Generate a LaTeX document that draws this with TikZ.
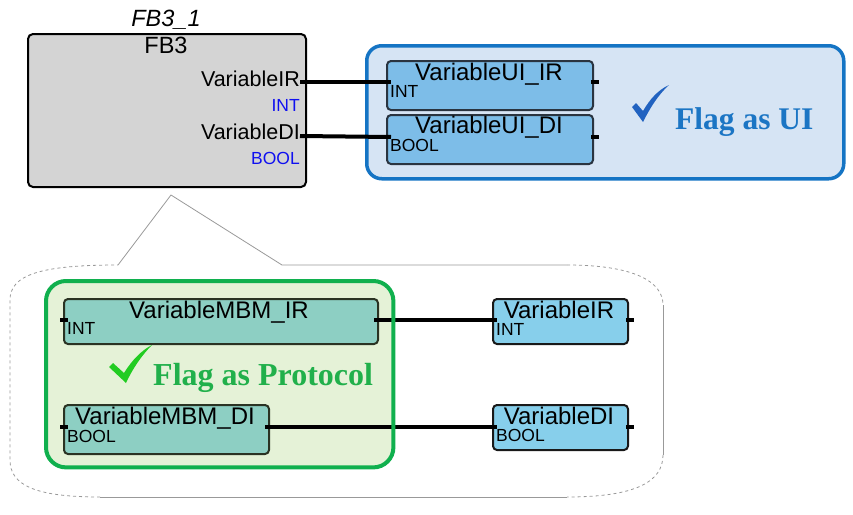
\documentclass[tikz,border=0pt]{standalone}
\usepackage{fontspec}
\setmainfont{Liberation Sans}
\newfontfamily\flagfont{Liberation Serif}
\begin{document}
\begin{tikzpicture}[x=1pt,y=-1pt,
  fbbox/.style={draw=black,line width=2pt,fill=fbgray,rounded corners=5pt},
  uibox/.style={draw=uiedge,line width=2pt,fill=uifill,rounded corners=4pt},
  mbmbox/.style={draw=mbmedge,line width=2pt,fill=mbmfill,rounded corners=4pt},
  varbox/.style={draw=black!90,line width=2pt,fill=varfill,rounded corners=4pt},
  title/.style={inner sep=0pt,anchor=base,font=\fontsize{24}{28}\selectfont},
  port/.style={inner sep=0pt,anchor=base east,font=\fontsize{21.5}{25}\selectfont},
  small/.style={inner sep=0pt,anchor=base west,font=\fontsize{17.5}{21}\selectfont},
  wire/.style={line width=4pt,black},
  stub/.style={line width=4pt,black},
  callout/.style={gray!80,line width=0.8pt},
  flag/.style={inner sep=0pt,anchor=base west,font=\flagfont\bfseries\fontsize{32}{36}\selectfont},
]
\definecolor{fbgray}{HTML}{D4D4D4}
\definecolor{uifill}{HTML}{7DBDE8}
\definecolor{uiedge}{HTML}{2A3440}
\definecolor{uigroupfill}{HTML}{D6E4F4}
\definecolor{uigroupedge}{HTML}{1574C4}
\definecolor{uitext}{HTML}{1B75C4}
\definecolor{uicheck}{HTML}{2162C0}
\definecolor{grgroupfill}{HTML}{E5F2D7}
\definecolor{grgroupedge}{HTML}{10B04E}
\definecolor{mbmfill}{HTML}{8DCFC3}
\definecolor{mbmedge}{HTML}{2A3323}
\definecolor{grtext}{HTML}{21B04B}
\definecolor{grcheck}{HTML}{22CC22}
\definecolor{varfill}{HTML}{87CFEB}
\definecolor{typeblue}{HTML}{1010F0}

\useasboundingbox (0,0) rectangle (853,514);

% callout outline
\draw[callout] (118,265) -- (171,195) -- (282,265) -- (567,265);
\draw[callout,dashed] (567,265) .. controls (635,265) and (663,282) .. (663,305);
\draw[callout] (663,305) -- (663,455);
\draw[callout,dashed] (663,455) .. controls (663,482) and (635,497) .. (567,497);
\draw[callout] (567,497) -- (100,497);
\draw[callout,dashed] (100,497) .. controls (35,497) and (10,485) .. (10,460) -- (10,300)
   .. controls (10,275) and (40,265) .. (118,265);

% FB3 block
\node[fbbox,minimum width=278pt,minimum height=153pt,anchor=north west] (fb3) at (27,33) {};
\node[inner sep=0pt,anchor=base,font=\itshape\fontsize{23.5}{27}\selectfont] (fbinst) at (166,26) {FB3\_1};
\node[title,font=\fontsize{23.5}{27}\selectfont] (fbtype) at (166,53) {FB3};
\node[port] (pir) at (300,86) {VariableIR};
\node[port,font=\fontsize{17.5}{21}\selectfont,text=typeblue] (pirt) at (300,111) {INT};
\node[port] (pdi) at (300,139) {VariableDI};
\node[port,font=\fontsize{17.5}{21}\selectfont,text=typeblue] (pdit) at (300,164) {BOOL};
\coordinate (fbIR) at (300,82);
\coordinate (fbDI) at (300,136);

% UI group
\node[draw=uigroupedge,line width=3.5pt,fill=uigroupfill,rounded corners=15pt,
      minimum width=477pt,minimum height=133pt,anchor=north west] (uigroup) at (365,44) {};
\node[uibox,minimum width=206pt,minimum height=49pt,anchor=north west] (uiir) at (386,60) {};
\node[uibox,minimum width=206pt,minimum height=49pt,anchor=north west] (uidi) at (386,114) {};
\node[title] (uiirt) at (489,80) {VariableUI\_IR};
\node[small] (uiirty) at (390,97) {INT};
\node[title] (uidit) at (489,133) {VariableUI\_DI};
\node[small] (uidity) at (390,151) {BOOL};
\coordinate (uiirL) at (391,82);
\coordinate (uidiL) at (391,137);
\draw[stub] (uiir.east |- 0,82) ++(-3,0) -- ++(8,0);
\draw[stub] (uidi.east |- 0,137) ++(-3,0) -- ++(8,0);
\draw[wire] (fbIR) -- (uiirL);
\draw[wire] (fbDI) -- (uidiL);
% blue check
\fill[uicheck] (632,107) -- (636,103) -- (643,111)
  .. controls (650,99) and (658,90) .. (669,85)
  .. controls (658,95) and (650,108) .. (643,122) -- cycle;
\node[flag,text=uitext,font=\flagfont\bfseries\fontsize{31.5}{36}\selectfont] (flagui) at (675,129) {Flag as UI};

% Protocol group
\node[fill=grgroupfill,rounded corners=20pt,minimum width=347pt,minimum height=186pt,
      anchor=north west] (grgroup) at (46,281) {};
\node[mbmbox,minimum width=314pt,minimum height=45pt,anchor=north west] (mbmir) at (63,298) {};
\node[mbmbox,minimum width=205pt,minimum height=49pt,anchor=north west] (mbmdi) at (63,404) {};
\node[title] (mbmirt) at (219,318) {VariableMBM\_IR};
\node[small] (mbmirty) at (67,334) {INT};
\node[title] (mbmdit) at (165,424) {VariableMBM\_DI};
\node[small] (mbmdity) at (67,442) {BOOL};
\draw[stub] (mbmir.west |- 0,320) ++(-3,0) -- ++(8,0);
\draw[stub] (mbmdi.west |- 0,427) ++(-3,0) -- ++(8,0);

% right variables
\node[varbox,minimum width=135pt,minimum height=45pt,anchor=north west] (vir) at (492,298) {};
\node[varbox,minimum width=135pt,minimum height=45pt,anchor=north west] (vdi) at (492,404) {};
\node[title] (virt) at (559,318) {VariableIR};
\node[small] (virty) at (496,335) {INT};
\node[title] (vdit) at (559,424) {VariableDI};
\node[small] (vdity) at (496,441) {BOOL};
\draw[stub] (vir.east |- 0,320) ++(-3,0) -- ++(8,0);
\draw[stub] (vdi.east |- 0,427) ++(-3,0) -- ++(8,0);
\coordinate (virL) at (497,320);
\coordinate (vdiL) at (497,427);
\coordinate (mbmirR) at (374,320);
\coordinate (mbmdiR) at (265,427);
\draw[wire] (mbmirR) -- (virL);
\draw[wire] (mbmdiR) -- (vdiL);

% green border on top
\draw[grgroupedge,line width=4pt,rounded corners=20pt] (grgroup.north west) rectangle (grgroup.south east);
% green check
\fill[grcheck] (109,367) -- (113,363) -- (124,373)
  .. controls (132,360) and (142,350) .. (152,345)
  .. controls (142,355) and (133,368) .. (126,383) -- cycle;
\node[flag,text=grtext] (flagpr) at (153,385) {Flag as Protocol};
\end{tikzpicture}
\end{document}
